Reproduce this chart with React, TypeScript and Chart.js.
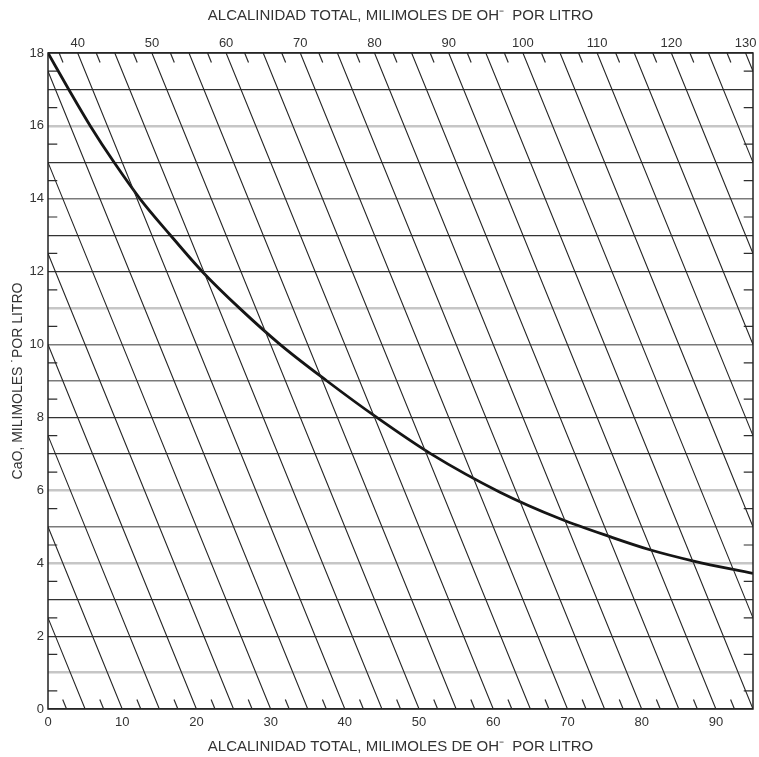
import React, { useEffect, useRef } from "react";
import { Chart, registerables } from "chart.js";

Chart.register(...registerables);

// ---- Data ----
const X_TITLE = "ALCALINIDAD TOTAL, MILIMOLES DE OH\u207B  POR LITRO";
const Y_TITLE = "CaO, MILIMOLES \u02D9POR LITRO";

const X_MIN = 0;
const X_MAX = 95;
const Y_MIN = 0;
const Y_MAX = 18;

const X_BOTTOM_TICKS = [0, 10, 20, 30, 40, 50, 60, 70, 80, 90];
const X_TOP_TICKS = [40, 50, 60, 70, 80, 90, 100, 110, 120, 130];
const Y_TICKS = [0, 1, 2, 3, 4, 5, 6, 7, 8, 9, 10, 11, 12, 13, 14, 15, 16, 17, 18];
const Y_LABELED = [0, 2, 4, 6, 8, 10, 12, 14, 16, 18];
const Y_LIGHT_LINES = [1, 4, 6, 11, 16];
const Y_MEDIUM_LINES = [5, 9, 10, 14];

// Curve: CaO (y) vs alkalinity (bottom x)
const CURVE_X = [0, 2.8, 5.7, 8.9, 12.4, 16.5, 20.8, 25.8, 31.3, 37.6, 44.3, 51.6, 60.9, 69, 75.7, 81.1, 87, 95];
const CURVE_Y = [18, 17, 16, 15, 14, 13, 12, 11, 10, 9, 8, 7, 5.95, 5.22, 4.73, 4.37, 4.06, 3.72];

// Diagonal lines of constant total alkalinity (x + 2y)
const ALK_MAJOR = [5, 10, 15, 20, 25, 30, 35, 40, 45, 50, 55, 60, 65, 70, 75, 80, 85, 90, 95, 100, 105, 110, 115, 120, 125, 130];
const ALK_MINOR_BOTTOM = [2.5, 7.5, 12.5, 17.5, 22.5, 27.5, 32.5, 37.5, 42.5, 47.5, 52.5, 57.5, 62.5, 67.5, 72.5, 77.5, 82.5, 87.5, 92.5];
const ALK_MINOR_TOP = [37.5, 42.5, 47.5, 52.5, 57.5, 62.5, 67.5, 72.5, 77.5, 82.5, 87.5, 92.5, 97.5, 102.5, 107.5, 112.5, 117.5, 122.5, 127.5];
const SIDE_TICKS_Y = [0.5, 1.5, 2.5, 3.5, 4.5, 5.5, 6.5, 7.5, 8.5, 9.5, 10.5, 11.5, 12.5, 13.5, 14.5, 15.5, 16.5, 17.5];

const MINOR_DY = 0.26;
const SIDE_TICK_DX = 1.25;

const FONT = "'Liberation Sans', Arial, Helvetica, sans-serif";

type P = { x: number; y: number | null };

function buildDiagonals(): P[] {
  const pts: P[] = [];
  for (const a of ALK_MAJOR) {
    const x0 = Math.max(X_MIN, a - 2 * Y_MAX);
    const x1 = Math.min(X_MAX, a - 2 * Y_MIN);
    pts.push({ x: x0, y: (a - x0) / 2 });
    pts.push({ x: x1, y: (a - x1) / 2 });
    pts.push({ x: x1, y: null });
  }
  return pts;
}

function buildMinorTicks(): P[] {
  const pts: P[] = [];
  for (const a of ALK_MINOR_BOTTOM) {
    pts.push({ x: a, y: Y_MIN });
    pts.push({ x: a - 2 * MINOR_DY, y: Y_MIN + MINOR_DY });
    pts.push({ x: a, y: null });
  }
  for (const a of ALK_MINOR_TOP) {
    const x = a - 2 * Y_MAX;
    pts.push({ x, y: Y_MAX });
    pts.push({ x: x + 2 * MINOR_DY, y: Y_MAX - MINOR_DY });
    pts.push({ x, y: null });
  }
  for (const y of SIDE_TICKS_Y) {
    pts.push({ x: X_MIN, y });
    pts.push({ x: X_MIN + SIDE_TICK_DX, y });
    pts.push({ x: X_MIN, y: null });
    pts.push({ x: X_MAX - SIDE_TICK_DX, y });
    pts.push({ x: X_MAX, y });
    pts.push({ x: X_MAX, y: null });
  }
  return pts;
}

const framePlugin = {
  id: "frame",
  afterDatasetsDraw(chart: any) {
    const { ctx, chartArea } = chart;
    ctx.save();
    ctx.strokeStyle = "#222";
    ctx.lineWidth = 1.5;
    ctx.strokeRect(chartArea.left, chartArea.top, chartArea.right - chartArea.left, chartArea.bottom - chartArea.top);
    ctx.restore();
  },
};

export default function App() {
  const ref = useRef<HTMLCanvasElement>(null);
  useEffect(() => {
    if (!ref.current) return;
    const chart = new Chart(ref.current, {
      type: "line",
      data: {
        datasets: [
          {
            label: "diagonals",
            data: buildDiagonals() as any,
            borderColor: "#262626",
            borderWidth: 1.1,
            pointRadius: 0,
            spanGaps: false,
            tension: 0,
            xAxisID: "x",
            yAxisID: "y",
          },
          {
            label: "minor",
            data: buildMinorTicks() as any,
            borderColor: "#2e2e2e",
            borderWidth: 1.2,
            pointRadius: 0,
            spanGaps: false,
            tension: 0,
            xAxisID: "x",
            yAxisID: "y",
          },
          {
            label: "CaO",
            data: CURVE_X.map((x, i) => ({ x, y: CURVE_Y[i] })) as any,
            borderColor: "#151515",
            borderWidth: 2.8,
            pointRadius: 0,
            cubicInterpolationMode: "monotone",
            xAxisID: "x",
            yAxisID: "y",
          },
        ],
      },
      options: {
        responsive: false,
        maintainAspectRatio: false,
        animation: false,
        layout: { padding: { left: 0, right: 6, top: 0, bottom: 0 } },
        plugins: { legend: { display: false }, tooltip: { enabled: false } },
        scales: {
          x: {
            type: "linear",
            position: "bottom",
            min: X_MIN,
            max: X_MAX,
            afterBuildTicks: (s: any) => {
              s.ticks = X_BOTTOM_TICKS.map((v) => ({ value: v }));
            },
            afterFit: (s: any) => {
              s.height = 48;
            },
            ticks: { font: { size: 13, family: FONT }, color: "#333", padding: 6, maxRotation: 0, autoSkip: false },
            grid: { display: false, drawTicks: false },
            border: { display: false },
            title: { display: true, text: X_TITLE, font: { size: 15, family: FONT }, color: "#333", padding: { top: 0, bottom: 1 } },
          },
          x2: {
            type: "linear",
            position: "top",
            axis: "x",
            min: X_MIN + 2 * Y_MAX,
            max: X_MAX + 2 * Y_MAX,
            afterBuildTicks: (s: any) => {
              s.ticks = X_TOP_TICKS.map((v) => ({ value: v }));
            },
            afterFit: (s: any) => {
              s.height = 53;
            },
            ticks: { font: { size: 13, family: FONT }, color: "#333", padding: 2, maxRotation: 0, autoSkip: false },
            grid: { display: false, drawTicks: false },
            border: { display: false },
            title: { display: true, text: X_TITLE, font: { size: 15, family: FONT }, color: "#333", padding: { top: 7, bottom: 0 } },
          },
          y: {
            type: "linear",
            position: "left",
            min: Y_MIN,
            max: Y_MAX,
            afterBuildTicks: (s: any) => {
              s.ticks = Y_TICKS.map((v) => ({ value: v }));
            },
            afterFit: (s: any) => {
              s.width = 48;
            },
            ticks: {
              font: { size: 13, family: FONT },
              color: "#333",
              padding: 4,
              autoSkip: false,
              callback: (v: any) => (Y_LABELED.includes(Number(v)) ? String(v) : ""),
            },
            grid: {
              drawTicks: false,
              color: (c: any) => {
                const v = c.tick ? c.tick.value : -1;
                if (Y_LIGHT_LINES.includes(v)) return "#c6c6c6";
                if (Y_MEDIUM_LINES.includes(v)) return "#7a7a7a";
                return "#333";
              },
              lineWidth: (c: any) => {
                const v = c.tick ? c.tick.value : -1;
                if (Y_LIGHT_LINES.includes(v)) return 2.5;
                if (Y_MEDIUM_LINES.includes(v)) return 1.5;
                return 1.2;
              },
            },
            border: { display: false },
            title: { display: true, text: Y_TITLE, font: { size: 14, family: FONT }, color: "#333", padding: { top: 10, bottom: 0 } },
          },
        },
      } as any,
      plugins: [framePlugin],
    });
    return () => chart.destroy();
  }, []);
  return (
    <div style={{ position: "fixed", left: 0, top: 0, width: 759, height: 757, background: "#fff" }}>
      <canvas ref={ref} width={759} height={757} style={{ display: "block" }} />
    </div>
  );
}
